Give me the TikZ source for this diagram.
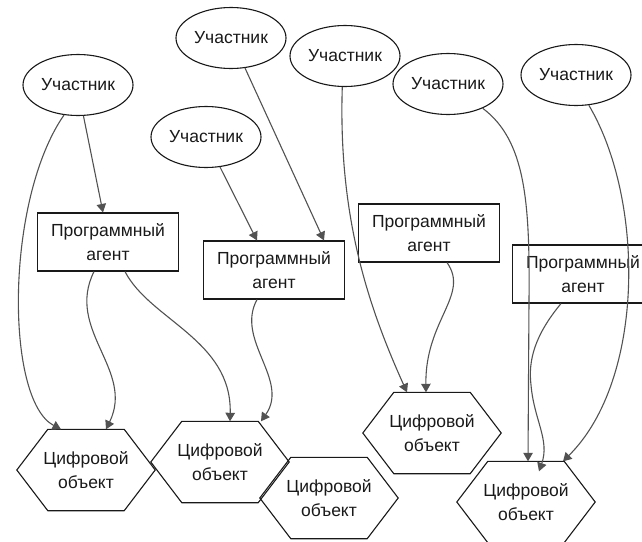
\documentclass[tikz,border=0pt]{standalone}
\usepackage{fontspec}
\setmainfont{Liberation Sans}
\usetikzlibrary{shapes.geometric,arrows.meta}

\begin{document}
\begin{tikzpicture}[x=1pt,y=-1pt,
  every node/.style={font=\fontsize{17.5}{24}\selectfont, text=black!90},
  actor/.style={ellipse, draw=black!90, line width=1.1pt, minimum width=110pt, minimum height=61pt, inner sep=0pt},
  agent/.style={rectangle, draw=black!90, line width=1.1pt, minimum width=141pt, minimum height=58pt, inner sep=0pt, align=center},
  dobj/.style={rectangle, minimum width=138pt, minimum height=81pt, inner sep=0pt, align=center},
  hexline/.style={draw=black!90, line width=1.1pt, line join=miter},
  link/.style={draw=black!68, line width=1.1pt, -{Triangle[length=8.5pt,width=9.5pt]}},
]
\useasboundingbox (0,0) rectangle (642,541);
\clip (0,0) rectangle (642,541);

% participants
\node[actor] (p1) at (78,85)  {Участник};
\node[actor] (p2) at (231,38) {Участник};
\node[actor] (p3) at (206,137) {Участник};
\node[actor] (p4) at (345,56) {Участник};
\node[actor] (p5) at (448,84) {Участник};
\node[actor] (p6) at (576,75) {Участник};

% software agents
\node[agent] (a1) at (108,242) {Программный\\агент};
\node[agent] (a2) at (274,270) {Программный\\агент};
\node[agent] (a3) at (429,233) {Программный\\агент};
\node[agent] (a4) at (583,274) {Программный\\агент};

% digital objects: text nodes with a hexagonal outline
\node[dobj] (d1) at (86,470)  {Цифровой\\объект};
\node[dobj] (d2) at (220,462) {Цифровой\\объект};
\node[dobj] (d3) at (329,498) {Цифровой\\объект};
\node[dobj] (d4) at (432,433) {Цифровой\\объект};
\node[dobj] (d5) at (526,502) {Цифровой\\объект};
\foreach \h in {d1,d2,d3,d4,d5}
  \draw[hexline] (\h.west) -- ([xshift=31pt]\h.north west) -- ([xshift=-31pt]\h.north east)
    -- (\h.east) -- ([xshift=-31pt]\h.south east) -- ([xshift=31pt]\h.south west) -- cycle;

% connectors
\draw[link] (p1.280) -- ([xshift=-5pt]a1.north);
\draw[link] (p1.245) .. controls (5,200) and (5,400) .. ([xshift=-25pt]d1.north);
\draw[link] ([xshift=-14pt]a1.south) .. controls (65,330) and (135,370) .. ([xshift=20pt]d1.north);
\draw[link] ([xshift=17pt]a1.south) .. controls (150,320) and (232,340) .. ([xshift=10pt]d2.north);
\draw[link] (p3.295) -- ([xshift=-17pt]a2.north);
\draw[link] (p2.295) -- ([xshift=50pt]a2.north);
\draw[link] ([xshift=-17pt]a2.south) .. controls (235,340) and (290,380) .. ([xshift=41pt]d2.north);
\draw[link] (p4.265) .. controls (338,220) and (370,310) .. ([xshift=-25pt]d4.north);
\draw[link] ([xshift=18pt]a3.south) .. controls (470,295) and (425,320) .. ([xshift=-6pt]d4.north);
\draw[link] (p5.325) .. controls (525,140) and (530,200) .. (529,300) -- ([xshift=2pt]d5.north);
\draw[link] (p6.293) .. controls (645,200) and (645,380) .. ([xshift=37pt]d5.north);
\draw[link] ([xshift=-22pt]a4.south) .. controls (535,335) and (528,360) .. (531,385)
  .. controls (534,420) and (550,440) .. ([xshift=13pt,yshift=-10pt]d5.north);
\end{tikzpicture}
\end{document}
